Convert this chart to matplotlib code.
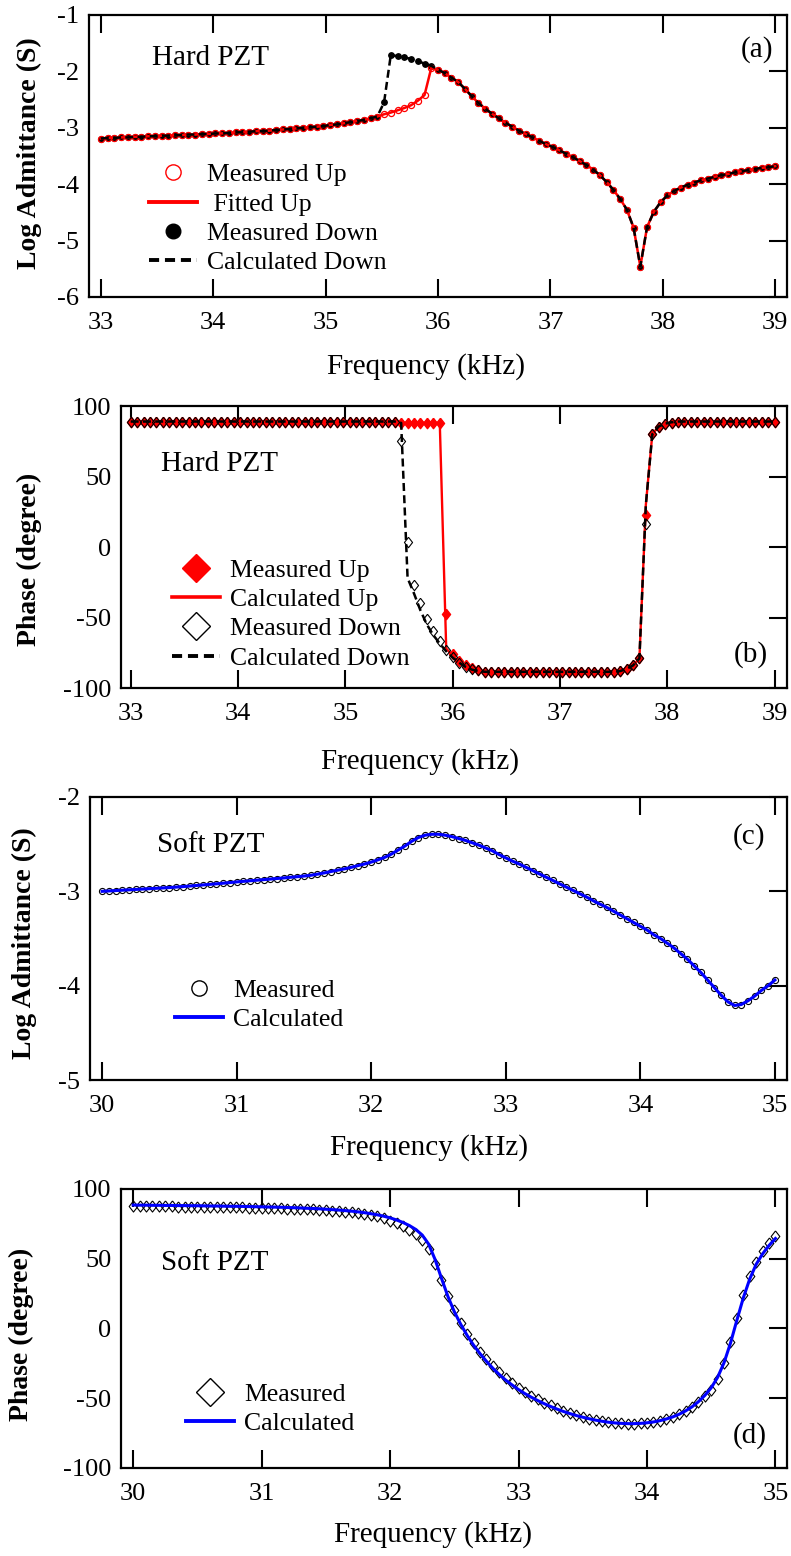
import numpy as np
import matplotlib
matplotlib.use("Agg")
import matplotlib.pyplot as plt
from matplotlib.lines import Line2D

plt.rcParams["font.family"] = ["Liberation Serif", "DejaVu Serif"]
plt.rcParams["axes.unicode_minus"] = False

# ---------------- Hard PZT: sweep 33-39 kHz in 0.06 kHz steps ----------------
hard_freq = np.linspace(33.0, 39.0, 101)

# log admittance (S), sweep up (open circles / fitted line)
hard_adm_up = [
    -3.19, -3.18, -3.18, -3.17, -3.17, -3.16, -3.16, -3.15, -3.15, -3.14,
    -3.14, -3.13, -3.13, -3.12, -3.12, -3.11, -3.11, -3.10, -3.10, -3.09,
    -3.08, -3.08, -3.07, -3.06, -3.06, -3.05, -3.04, -3.03, -3.02, -3.01,
    -3.00, -2.99, -2.98, -2.97, -2.95, -2.94, -2.92, -2.90, -2.88, -2.86,
    -2.83, -2.80, -2.76, -2.73, -2.69, -2.65, -2.60, -2.52, -2.42, -1.94,
    -1.97, -2.03, -2.11, -2.19, -2.31, -2.44, -2.56, -2.66, -2.75, -2.83,
    -2.91, -2.98, -3.05, -3.11, -3.17, -3.23, -3.29, -3.34, -3.40, -3.46,
    -3.52, -3.59, -3.66, -3.74, -3.84, -3.96, -4.10, -4.26, -4.45, -4.77,
    -5.46, -4.76, -4.49, -4.32, -4.20, -4.12, -4.06, -4.01, -3.97, -3.93,
    -3.90, -3.87, -3.84, -3.82, -3.79, -3.77, -3.75, -3.73, -3.71, -3.70,
    -3.68,
]
# log admittance (S), sweep down (filled circles / dashed line)
hard_adm_down = [
    -3.19, -3.18, -3.18, -3.17, -3.17, -3.16, -3.16, -3.15, -3.15, -3.14,
    -3.14, -3.13, -3.13, -3.12, -3.12, -3.11, -3.11, -3.10, -3.10, -3.09,
    -3.08, -3.08, -3.07, -3.06, -3.06, -3.05, -3.04, -3.03, -3.02, -3.01,
    -3.00, -2.99, -2.98, -2.97, -2.95, -2.94, -2.92, -2.90, -2.88, -2.86,
    -2.83, -2.80, -2.55, -1.71, -1.73, -1.75, -1.78, -1.82, -1.86, -1.90,
    -1.97, -2.03, -2.11, -2.19, -2.31, -2.44, -2.56, -2.66, -2.75, -2.83,
    -2.91, -2.98, -3.05, -3.11, -3.17, -3.23, -3.29, -3.34, -3.40, -3.46,
    -3.52, -3.59, -3.66, -3.74, -3.84, -3.96, -4.10, -4.26, -4.45, -4.77,
    -5.46, -4.76, -4.49, -4.32, -4.20, -4.12, -4.06, -4.01, -3.97, -3.93,
    -3.90, -3.87, -3.84, -3.82, -3.79, -3.77, -3.75, -3.73, -3.71, -3.70,
    -3.68,
]

# phase (degree), sweep up: measured and calculated
hard_phase_up = [
    89.0, 89.0, 89.0, 89.0, 89.0, 89.0, 89.0, 89.0, 89.0, 89.0,
    89.0, 89.0, 89.0, 89.0, 89.0, 89.0, 89.0, 89.0, 89.0, 89.0,
    89.0, 89.0, 89.0, 89.0, 89.0, 89.0, 89.0, 89.0, 89.0, 89.0,
    89.0, 89.0, 89.0, 89.0, 89.0, 89.0, 89.0, 89.0, 89.0, 89.0,
    89.0, 89.0, 88.0, 88.0, 88.0, 88.0, 88.0, 88.0, 88.0, -47.5,
    -76.0, -81.0, -84.0, -86.0, -87.5, -88.5, -88.5, -88.5, -88.5, -88.5,
    -88.5, -88.5, -88.5, -88.5, -88.5, -88.5, -88.5, -88.5, -88.5, -88.5,
    -88.5, -88.5, -88.5, -88.5, -88.5, -88.5, -88.0, -86.5, -84.0, -78.5,
    22.5, 80.0, 85.0, 87.0, 88.0, 89.0, 89.0, 89.0, 89.0, 89.0,
    89.0, 89.0, 89.0, 89.0, 89.0, 89.0, 89.0, 89.0, 89.0, 89.0,
    89.0,
]
hard_phase_up_calc = [
    89.0, 89.0, 89.0, 89.0, 89.0, 89.0, 89.0, 89.0, 89.0, 89.0,
    89.0, 89.0, 89.0, 89.0, 89.0, 89.0, 89.0, 89.0, 89.0, 89.0,
    89.0, 89.0, 89.0, 89.0, 89.0, 89.0, 89.0, 89.0, 89.0, 89.0,
    89.0, 89.0, 89.0, 89.0, 89.0, 89.0, 89.0, 89.0, 89.0, 89.0,
    89.0, 89.0, 88.0, 88.0, 88.0, 88.0, 88.0, 88.0, 88.0, -72.0,
    -77.0, -81.5, -84.5, -86.5, -87.5, -88.5, -88.5, -88.5, -88.5, -88.5,
    -88.5, -88.5, -88.5, -88.5, -88.5, -88.5, -88.5, -88.5, -88.5, -88.5,
    -88.5, -88.5, -88.5, -88.5, -88.5, -88.5, -88.0, -86.5, -84.0, -79.0,
    30.0, 80.0, 85.5, 87.5, 88.5, 89.0, 89.0, 89.0, 89.0, 89.0,
    89.0, 89.0, 89.0, 89.0, 89.0, 89.0, 89.0, 89.0, 89.0, 89.0,
    89.0,
]
# phase (degree), sweep down: measured and calculated
hard_phase_down = [
    89.0, 89.0, 89.0, 89.0, 89.0, 89.0, 89.0, 89.0, 89.0, 89.0,
    89.0, 89.0, 89.0, 89.0, 89.0, 89.0, 89.0, 89.0, 89.0, 89.0,
    89.0, 89.0, 89.0, 89.0, 89.0, 89.0, 89.0, 89.0, 89.0, 89.0,
    89.0, 89.0, 89.0, 89.0, 89.0, 89.0, 89.0, 89.0, 89.0, 89.0,
    89.0, 89.0, 75.0, 3.5, -27.0, -40.0, -51.0, -59.5, -66.5, -73.0,
    -78.0, -82.0, -85.0, -86.5, -87.5, -88.5, -88.5, -88.5, -88.5, -88.5,
    -88.5, -88.5, -88.5, -88.5, -88.5, -88.5, -88.5, -88.5, -88.5, -88.5,
    -88.5, -88.5, -88.5, -88.5, -88.5, -88.5, -88.0, -86.5, -84.0, -78.5,
    16.5, 80.0, 85.0, 87.0, 88.0, 89.0, 89.0, 89.0, 89.0, 89.0,
    89.0, 89.0, 89.0, 89.0, 89.0, 89.0, 89.0, 89.0, 89.0, 89.0,
    89.0,
]
hard_phase_down_calc = [
    89.0, 89.0, 89.0, 89.0, 89.0, 89.0, 89.0, 89.0, 89.0, 89.0,
    89.0, 89.0, 89.0, 89.0, 89.0, 89.0, 89.0, 89.0, 89.0, 89.0,
    89.0, 89.0, 89.0, 89.0, 89.0, 89.0, 89.0, 89.0, 89.0, 89.0,
    89.0, 89.0, 89.0, 89.0, 89.0, 89.0, 89.0, 89.0, 89.0, 89.0,
    89.0, 89.0, 88.0, -22.0, -33.0, -45.0, -55.0, -62.5, -68.5, -74.0,
    -78.5, -82.0, -85.0, -87.0, -88.0, -88.5, -88.5, -88.5, -88.5, -88.5,
    -88.5, -88.5, -88.5, -88.5, -88.5, -88.5, -88.5, -88.5, -88.5, -88.5,
    -88.5, -88.5, -88.5, -88.5, -88.5, -88.5, -88.0, -86.5, -84.0, -79.0,
    30.0, 80.0, 85.5, 87.5, 88.5, 89.0, 89.0, 89.0, 89.0, 89.0,
    89.0, 89.0, 89.0, 89.0, 89.0, 89.0, 89.0, 89.0, 89.0, 89.0,
    89.0,
]

# ---------------- Soft PZT: sweep 30-35 kHz in 0.05 kHz steps ----------------
soft_freq = np.linspace(30.0, 35.0, 101)

soft_adm = [
    -3.000, -2.996, -2.992, -2.988, -2.984, -2.980, -2.976, -2.972, -2.968, -2.964,
    -2.960, -2.955, -2.950, -2.944, -2.938, -2.932, -2.926, -2.920, -2.914, -2.907,
    -2.900, -2.894, -2.888, -2.882, -2.876, -2.870, -2.864, -2.858, -2.851, -2.845,
    -2.838, -2.830, -2.818, -2.805, -2.790, -2.776, -2.762, -2.746, -2.728, -2.710,
    -2.690, -2.666, -2.640, -2.605, -2.562, -2.520, -2.470, -2.430, -2.405, -2.395,
    -2.395, -2.405, -2.420, -2.440, -2.460, -2.485, -2.510, -2.540, -2.570, -2.610,
    -2.645, -2.680, -2.710, -2.745, -2.780, -2.815, -2.850, -2.885, -2.920, -2.955,
    -2.990, -3.025, -3.060, -3.100, -3.135, -3.170, -3.210, -3.250, -3.290, -3.330,
    -3.370, -3.410, -3.460, -3.500, -3.550, -3.600, -3.660, -3.720, -3.790, -3.860,
    -3.940, -4.020, -4.100, -4.170, -4.210, -4.200, -4.160, -4.110, -4.050, -4.000,
    -3.940,
]

soft_phase = [
    87.8, 87.7, 87.7, 87.6, 87.6, 87.5, 87.5, 87.4, 87.4, 87.3,
    87.3, 87.2, 87.1, 87.1, 87.0, 86.9, 86.9, 86.8, 86.7, 86.6,
    86.5, 86.4, 86.3, 86.2, 86.0, 85.9, 85.7, 85.5, 85.3, 85.1,
    84.8, 84.5, 84.2, 83.8, 83.3, 82.8, 82.1, 81.3, 80.3, 79.0,
    77.4, 75.6, 73.4, 70.8, 67.8, 63.5, 57.0, 46.0, 34.5, 23.0,
    13.0, 4.0, -3.8, -10.5, -16.5, -22.0, -27.0, -31.5, -35.5, -39.2,
    -42.5, -45.5, -48.3, -50.8, -53.1, -55.2, -57.2, -59.0, -60.6, -62.1,
    -63.4, -64.6, -65.6, -66.5, -67.2, -67.7, -68.1, -68.3, -68.3, -68.1,
    -67.7, -67.0, -66.1, -64.9, -63.3, -61.3, -59.0, -56.0, -52.5, -48.5,
    -44.0, -36.0, -24.5, -9.6, 7.5, 24.0, 37.5, 48.0, 55.5, 61.5,
    66.0,
]
soft_phase_calc = [
    88.5, 88.4, 88.4, 88.3, 88.3, 88.2, 88.2, 88.1, 88.1, 88.0,
    88.0, 87.9, 87.8, 87.8, 87.7, 87.6, 87.6, 87.5, 87.4, 87.3,
    87.2, 87.1, 87.0, 86.9, 86.7, 86.6, 86.4, 86.2, 86.0, 85.8,
    85.5, 85.2, 84.9, 84.5, 84.1, 83.6, 83.0, 82.3, 81.5, 80.5,
    79.3, 77.8, 76.0, 73.8, 71.0, 67.0, 60.5, 49.5, 36.0, 23.0,
    12.0, 3.0, -5.0, -12.0, -18.0, -23.5, -28.5, -33.0, -37.0, -40.5,
    -43.8, -46.7, -49.3, -51.7, -53.9, -55.9, -57.8, -59.5, -61.0, -62.4,
    -63.6, -64.7, -65.7, -66.5, -67.2, -67.7, -68.0, -68.2, -68.2, -68.0,
    -67.6, -67.0, -66.1, -64.9, -63.4, -61.5, -59.1, -56.2, -52.5, -48.0,
    -42.5, -35.0, -24.5, -10.5, 6.0, 22.0, 35.5, 46.0, 53.5, 59.5,
    64.5,
]

hard_ticks = [33, 34, 35, 36, 37, 38, 39]
soft_ticks = [30, 31, 32, 33, 34, 35]
hard_adm_yticks = [-6, -5, -4, -3, -2, -1]
soft_adm_yticks = [-5, -4, -3, -2]
phase_yticks = [-100, -50, 0, 50, 100]

RED = "#ff0000"
BLUE = "#0000ff"
DASH = (0, (3.2, 1.7))
DIAMOND = [(0, 1), (0.78, 0), (0, -1), (-0.78, 0), (0, 1)]

TICK_FS = 19
LABEL_FS = 21
YLABEL_FS = 20
LEG_FS = 18.5

fig = plt.figure(figsize=(7.91, 15.56), dpi=100)
ax_a = fig.add_axes([0.11252, 0.80913, 0.88243, 0.18123])
ax_b = fig.add_axes([0.15297, 0.55784, 0.84197, 0.18123])
ax_c = fig.add_axes([0.11378, 0.30591, 0.88116, 0.18188])
ax_d = fig.add_axes([0.15297, 0.05656, 0.84197, 0.17931])


def style(ax, xlim, ylim, xticks, yticks, ylabel, ylab_x, ylab_y, xlab_x, xlab_y):
    ax.set_xlim(*xlim)
    ax.set_ylim(*ylim)
    ax.set_xticks(xticks)
    ax.set_yticks(yticks)
    ax.tick_params(axis="x", direction="in", top=True, bottom=True,
                   length=13, width=1.5, labelsize=TICK_FS, pad=11)
    ax.tick_params(axis="y", direction="in", left=False, right=True,
                   labelleft=True, length=13, width=1.5, labelsize=TICK_FS, pad=7)
    for sp in ax.spines.values():
        sp.set_linewidth(1.6)
    ax.set_xlabel("Frequency (kHz)", fontsize=LABEL_FS, va="center")
    ax.xaxis.set_label_coords(xlab_x, xlab_y)
    ax.set_ylabel(ylabel, fontsize=YLABEL_FS, fontweight="bold", va="center")
    ax.yaxis.set_label_coords(ylab_x, ylab_y)


def legend(ax, handles, labels, x, y):
    ax.legend(handles, labels, loc="center left", bbox_to_anchor=(x, y),
              frameon=False, fontsize=LEG_FS, handlelength=1.85,
              handletextpad=0.4, labelspacing=0.24, borderpad=0,
              borderaxespad=0)


# (a) Hard PZT admittance
ax_a.plot(hard_freq, hard_adm_down, ls="none", marker="o", ms=3.9,
          color="black", zorder=2)
ax_a.plot(hard_freq, hard_adm_up, ls="none", marker="o", ms=4.4,
          mfc="none", mec=RED, mew=0.9, zorder=3)
ax_a.plot(hard_freq, hard_adm_up, color=RED, lw=1.8, zorder=4)
ax_a.plot(hard_freq, hard_adm_down, color="black", lw=1.8, ls=DASH, zorder=5)
style(ax_a, (32.895, 39.105), (-6, -1), hard_ticks, hard_adm_yticks,
      "Log Admittance (S)", -0.085, 0.51, 0.483, -0.248)
ax_a.text(0.090, 0.823, "Hard PZT", transform=ax_a.transAxes,
          fontsize=LABEL_FS, va="baseline", ha="left")
ax_a.text(0.98, 0.876, "(a)", transform=ax_a.transAxes,
          fontsize=LABEL_FS, va="center", ha="right")
legend(ax_a,
       [Line2D([], [], ls="none", marker="o", ms=11, mfc="none", mec=RED, mew=1.0),
        Line2D([], [], color=RED, lw=2.8),
        Line2D([], [], ls="none", marker="o", ms=10.5, color="black"),
        Line2D([], [], color="black", lw=2.8, ls=(0, (2.6, 1.5)))],
       ["Measured Up", " Fitted Up", "Measured Down", "Calculated Down"],
       0.086, 0.278)

# (b) Hard PZT phase
ax_b.plot(hard_freq, hard_phase_up_calc, color=RED, lw=1.7, zorder=2)
ax_b.plot(hard_freq, hard_phase_up, ls="none", marker=DIAMOND, ms=7.5,
          color=RED, mec=RED, zorder=3)
ax_b.plot(hard_freq, hard_phase_down, ls="none", marker=DIAMOND, ms=7.5,
          mfc="none", mec="black", mew=0.8, zorder=4)
ax_b.plot(hard_freq, hard_phase_down_calc, color="black", lw=1.8, ls=DASH,
          zorder=5)
style(ax_b, (32.91, 39.115), (-100, 100), hard_ticks, phase_yticks,
      "Phase (degree)", -0.137, 0.457, 0.449, -0.262)
ax_b.text(0.06, 0.771, "Hard PZT", transform=ax_b.transAxes,
          fontsize=LABEL_FS, va="baseline", ha="left")
ax_b.text(0.971, 0.117, "(b)", transform=ax_b.transAxes,
          fontsize=LABEL_FS, va="center", ha="right")
legend(ax_b,
       [Line2D([], [], ls="none", marker="D", ms=14, color=RED),
        Line2D([], [], color=RED, lw=2.6),
        Line2D([], [], ls="none", marker="D", ms=14, mfc="none", mec="black", mew=1.0),
        Line2D([], [], color="black", lw=2.8, ls=(0, (2.6, 1.5)))],
       ["Measured Up", "Calculated Up", "Measured Down", "Calculated Down"],
       0.077, 0.261)

# (c) Soft PZT admittance
ax_c.plot(soft_freq, soft_adm, ls="none", marker="o", ms=4.4,
          mfc="none", mec="black", mew=0.8, zorder=2)
ax_c.plot(soft_freq, soft_adm, color=BLUE, lw=2.2, zorder=3)
style(ax_c, (29.91, 35.09), (-5, -2), soft_ticks, soft_adm_yticks,
      "Log Admittance (S)", -0.094, 0.484, 0.486, -0.237)
ax_c.text(0.096, 0.807, "Soft PZT", transform=ax_c.transAxes,
          fontsize=LABEL_FS, va="baseline", ha="left")
ax_c.text(0.969, 0.86, "(c)", transform=ax_c.transAxes,
          fontsize=LABEL_FS, va="center", ha="right")
legend(ax_c,
       [Line2D([], [], ls="none", marker="o", ms=11, mfc="none", mec="black", mew=1.0),
        Line2D([], [], color=BLUE, lw=2.8)],
       ["Measured", "Calculated"], 0.122, 0.265)

# (d) Soft PZT phase
ax_d.plot(soft_freq, soft_phase, ls="none", marker=DIAMOND, ms=8,
          mfc="none", mec="black", mew=0.8, zorder=2)
ax_d.plot(soft_freq, soft_phase_calc, color=BLUE, lw=2.2, zorder=3)
style(ax_d, (29.905, 35.09), (-100, 100), soft_ticks, phase_yticks,
      "Phase (degree)", -0.149, 0.48, 0.468, -0.239)
ax_d.text(0.06, 0.711, "Soft PZT", transform=ax_d.transAxes,
          fontsize=LABEL_FS, va="baseline", ha="left")
ax_d.text(0.97, 0.116, "(d)", transform=ax_d.transAxes,
          fontsize=LABEL_FS, va="center", ha="right")
legend(ax_d,
       [Line2D([], [], ls="none", marker="D", ms=14, mfc="none", mec="black", mew=1.0),
        Line2D([], [], color=BLUE, lw=2.8)],
       ["Measured", "Calculated"], 0.098, 0.211)

fig.savefig("out.png", dpi=100)
